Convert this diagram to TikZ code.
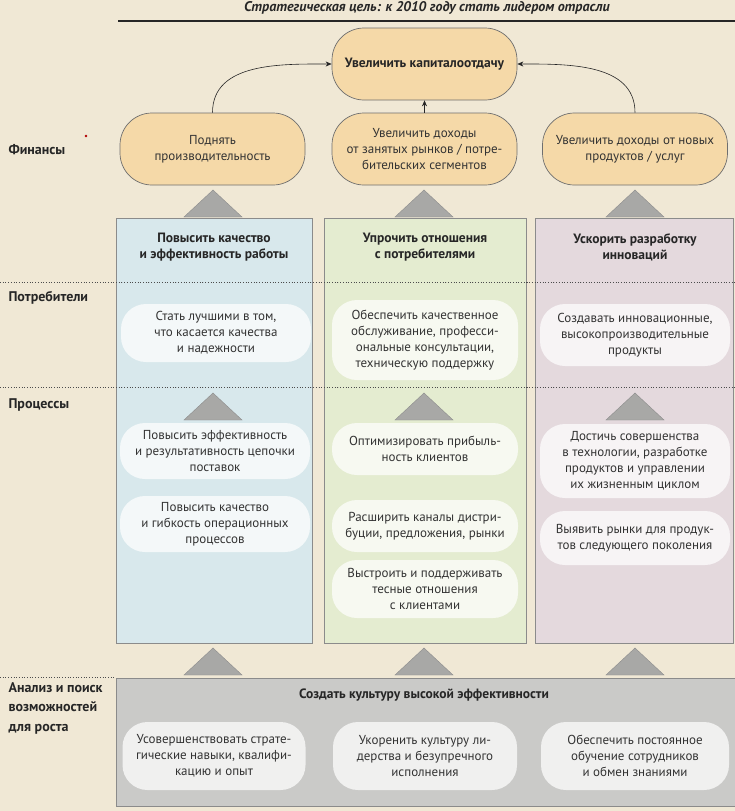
\documentclass[tikz,border=0pt]{standalone}
\usepackage{fontspec}
\setmainfont{PT Sans}
\usetikzlibrary{arrows.meta}
\definecolor{bg}{HTML}{F0E8D5}
\definecolor{finfill}{HTML}{F5D9A8}
\definecolor{colA}{HTML}{D4E8F1}
\definecolor{colB}{HTML}{E3EDD0}
\definecolor{colC}{HTML}{E2D7DF}
\definecolor{botfill}{HTML}{CACAC8}
\definecolor{trifill}{HTML}{A8A8A6}
\definecolor{edge}{HTML}{6E6E6E}
\definecolor{txt}{HTML}{333333}
\tikzset{
  x=1pt, y=-1pt,
  body/.style={font=\fontsize{13}{16}\selectfont, text=txt, align=center},
  fin/.style={body, draw=edge, line width=0.7pt, fill=finfill, rounded corners=32pt,
    minimum width=185pt, minimum height=72pt, inner sep=1pt},
  pill/.style={body, fill=white, fill opacity=0.72, text opacity=1, rounded corners=25pt,
    inner sep=1pt},
  colbox/.style={draw=edge!80, line width=0.6pt},
  head/.style={font=\bfseries\fontsize{13.5}{16}\selectfont, text=black!85, align=center},
  lab/.style={font=\bfseries\fontsize{14}{19.5}\selectfont, text=black!85, align=left, anchor=west},
  arr/.style={draw=black!85, line width=0.6pt, -{Stealth[length=6pt,width=5pt]}},
  tri/.style={fill=trifill, draw=black!45, line width=0.4pt},
  sep/.style={draw=black!70, line width=0.7pt, dotted},
}
\newcommand{\uptri}[2]{\path[tri] (#1-29,#2+27) -- (#1,#2) -- (#1+29,#2+27) -- cycle;}
\begin{document}
\begin{tikzpicture}
\useasboundingbox (0,0) rectangle (735,811);
\fill[bg] (0,0) rectangle (735,811);

% title
\node[font=\bfseries\itshape\fontsize{14}{16}\selectfont, text=black!85] (title) at (427,8) {Стратегическая цель: к 2010 году стать лидером отрасли};
\draw[line width=1.2pt, black!85] (118,21) -- (735,21);

% dotted separators
\draw[sep] (0,282) -- (735,282);
\draw[sep] (0,387) -- (735,387);
\draw[sep] (0,677) -- (116,677);

% columns
\path[colbox, fill=colA, fill opacity=0.85] (116,218) rectangle (312,643);
\path[colbox, fill=colB, fill opacity=0.85] (324,218) rectangle (526,643);
\path[colbox, fill=colC, fill opacity=0.85] (535,218) rectangle (733,643);
\draw[sep] (116,282) -- (733,282);
\draw[sep] (116,387) -- (733,387);

% bottom box
\path[colbox, fill=botfill] (116,678) rectangle (740,806);

% top goal and finance row
\node[fin, font=\bfseries\fontsize{13.5}{16}\selectfont, text=black!85] (goal) at (424.5,64) {Увеличить капиталоотдачу};
\node[fin] (f1) at (212.5,149) {Поднять\\производительность};
\node[fin] (f2) at (424.5,149) {Увеличить доходы\\от занятых рынков / потре-\\бительских сегментов};
\node[fin] (f3) at (635,149) {Увеличить доходы от новых\\продуктов / услуг};

\draw[arr] (f1.north) to[out=90,in=180] (goal.west);
\draw[arr] (f3.north) to[out=90,in=0] (goal.east);
\draw[arr] (f2.north) -- (goal.south);

% triangles
\foreach \xx in {213,424,635} {
  \uptri{\xx}{190}
  \uptri{\xx}{393}
  \uptri{\xx}{648}
}

% column headers
\node[head] (h1) at (214,247) {Повысить качество\\и эффективность работы};
\node[head] (h2) at (425,247) {Упрочить отношения\\с потребителями};
\node[head] (h3) at (635,247) {Ускорить разработку\\инноваций};

% customers row
\node[pill, minimum width=190pt, minimum height=58pt] (c1) at (216,333) {Стать лучшими в том,\\что касается качества\\и надежности};
\node[pill, minimum width=186pt, minimum height=80pt] (c2) at (425,340) {Обеспечить качественное\\обслуживание, професси-\\ональные консультации,\\техническую поддержку};
\node[pill, minimum width=190pt, minimum height=62pt] (c3) at (635,335) {Создавать инновационные,\\высокопроизводительные\\продукты};

% processes row
\node[pill, minimum width=190pt, minimum height=56pt] (p11) at (215,451) {Повысить эффективность\\и результативность цепочки\\поставок};
\node[pill, minimum width=190pt, minimum height=56pt] (p12) at (215,524) {Повысить качество\\и гибкость операционных\\процессов};
\node[pill, minimum width=186pt, minimum height=52pt] (p21) at (425,449) {Оптимизировать прибыль-\\ность клиентов};
\node[pill, minimum width=186pt, minimum height=52pt] (p22) at (425,526) {Расширить каналы дистри-\\буции, предложения, рынки};
\node[pill, minimum width=186pt, minimum height=58pt] (p23) at (425,589) {Выстроить и поддерживать\\тесные отношения\\с клиентами};
\node[pill, minimum width=190pt, minimum height=74pt] (p31) at (635,461) {Достичь совершенства\\в технологии, разработке\\продуктов и управлении\\их жизненным циклом};
\node[pill, minimum width=190pt, minimum height=54pt] (p32) at (635,538) {Выявить рынки для продук-\\тов следующего поколения};

% learning & growth
\node[head] (bt) at (424,695) {Создать культуру высокой эффективности};
\node[pill, minimum width=183pt, minimum height=68pt] (l1) at (214,756) {Усовершенствовать страте-\\гические навыки, квалифи-\\кацию и опыт};
\node[pill, minimum width=184pt, minimum height=68pt] (l2) at (425,756) {Укоренить культуру ли-\\дерства и безупречного\\исполнения};
\node[pill, minimum width=188pt, minimum height=68pt] (l3) at (635,756) {Обеспечить постоянное\\обучение сотрудников\\и обмен знаниями};

% row labels
\node[lab] (lf) at (5,150) {Финансы};
\node[lab] (lc) at (5,298) {Потребители};
\node[lab] (lp) at (5,405) {Процессы};
\node[lab] (lg) at (5,708) {Анализ и поиск\\возможностей\\для роста};
\fill[red!70!black] (86,136) circle (1.3pt);
\end{tikzpicture}
\end{document}
